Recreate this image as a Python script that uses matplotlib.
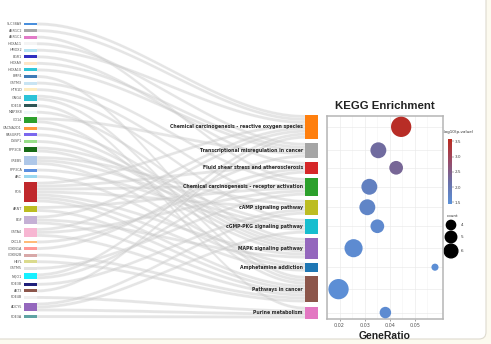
import numpy as np
import matplotlib
matplotlib.use('Agg')
import matplotlib.pyplot as plt
from matplotlib.patches import Rectangle, FancyBboxPatch, Polygon
from matplotlib.colors import LinearSegmentedColormap, Normalize
import matplotlib.cm as cm

# ---- data ----
genes = ['SLC38A9', 'AKR1C2', 'AKR1C1', 'HOXA11', 'HMOX2', 'EGR1', 'HOXA9', 'HOXA10',
         'BMP4', 'GSTM3', 'HTR1D', 'GNG4', 'PDE1B', 'MAP3K8', 'CD14', 'CACNA2D1',
         'RASGRP1', 'DUSP1', 'PPP3CB', 'CREB5', 'PPP3CA', 'ARC', 'FOS', 'ARNT', 'EGF',
         'GSTA4', 'CXCL8', 'CDKN1A', 'CDKN2B', 'HEYL', 'GSTM5', 'NQO1', 'PDE3B', 'AKT3',
         'PDE4B', 'ADCY5', 'PDE3A']
gene_colors = ['#4a8fdc', '#a8a8a8', '#e27bc8', '#f4f4f4', '#b3e2f2', '#2f2fc0', '#fde6c8', '#2ec6d8',
               '#3f7cb8', '#c9e4f3', '#fdecc0', '#2cc3d8', '#2f5555', '#eef7f8', '#2ca02c', '#ff9a3c',
               '#7b68ee', '#98df8a', '#176b17', '#aec7e8', '#5b8fe0', '#9ad8f0', '#c0282c', '#bcbd22', '#c5b0d5',
               '#f7b6d2', '#ffbb78', '#ff9896', '#d8a8a8', '#dbdb8d', '#e2e2e2', '#17f0ff', '#1f1f7a', '#8c564b',
               '#efefef', '#9467bd', '#5fa3a3']

pathways = ['Chemical carcinogenesis - reactive oxygen species',
            'Transcriptional misregulation in cancer',
            'Fluid shear stress and atherosclerosis',
            'Chemical carcinogenesis - receptor activation',
            'cAMP signaling pathway',
            'cGMP-PKG signaling pathway',
            'MAPK signaling pathway',
            'Amphetamine addiction',
            'Pathways in cancer',
            'Purine metabolism']
path_keys = ['ROS', 'TRANS', 'FLUID', 'RECEP', 'CAMP', 'CGMP', 'MAPK', 'AMPH', 'CANCER', 'PURINE']
path_colors = ['#ff7f0e', '#a5a5a5', '#d62728', '#2ca02c', '#bcbd22',
               '#17becf', '#9467bd', '#1f77b4', '#8c564b', '#e377c2']

links = [('SLC38A9', 'ROS'), ('AKR1C2', 'ROS'), ('AKR1C1', 'RECEP'), ('HOXA11', 'TRANS'),
         ('HMOX2', 'ROS'), ('EGR1', 'FLUID'), ('HOXA9', 'TRANS'), ('HOXA10', 'TRANS'),
         ('BMP4', 'CANCER'), ('GSTM3', 'RECEP'), ('HTR1D', 'CAMP'),
         ('GNG4', 'CGMP'), ('GNG4', 'CANCER'), ('PDE1B', 'PURINE'), ('MAP3K8', 'MAPK'),
         ('CD14', 'TRANS'), ('CD14', 'CANCER'), ('CACNA2D1', 'MAPK'), ('RASGRP1', 'MAPK'),
         ('DUSP1', 'MAPK'), ('PPP3CB', 'CGMP'), ('PPP3CB', 'MAPK'),
         ('CREB5', 'CAMP'), ('CREB5', 'CGMP'), ('CREB5', 'AMPH'), ('PPP3CA', 'CGMP'),
         ('ARC', 'AMPH'), ('FOS', 'ROS'), ('FOS', 'FLUID'), ('FOS', 'RECEP'), ('FOS', 'CAMP'),
         ('FOS', 'MAPK'), ('FOS', 'AMPH'), ('FOS', 'CANCER'), ('ARNT', 'RECEP'), ('ARNT', 'CANCER'),
         ('EGF', 'ROS'), ('EGF', 'MAPK'), ('EGF', 'CANCER'), ('GSTA4', 'ROS'), ('GSTA4', 'RECEP'),
         ('GSTA4', 'CANCER'), ('CXCL8', 'FLUID'), ('CDKN1A', 'TRANS'), ('CDKN2B', 'CANCER'),
         ('HEYL', 'CANCER'), ('GSTM5', 'RECEP'), ('NQO1', 'ROS'), ('NQO1', 'FLUID'),
         ('PDE3B', 'CAMP'), ('AKT3', 'ROS'), ('PDE4B', 'PURINE'), ('ADCY5', 'CAMP'),
         ('ADCY5', 'CGMP'), ('ADCY5', 'PURINE'), ('PDE3A', 'PURINE')]

gene_ratio = [0.0446, 0.0355, 0.0426, 0.0319, 0.0311, 0.0351, 0.0256, 0.0581, 0.0196, 0.0383]
neg_log_p = [3.5, 2.25, 2.35, 1.8, 1.7, 1.6, 1.55, 1.5, 1.5, 1.55]
count = [9, 7, 6, 7, 7, 6, 8, 3, 9, 5]
legend_counts = [4, 5, 6]

# ---- figure ----
fig = plt.figure(figsize=(4.91, 3.44), dpi=100)
fig.patch.set_facecolor('#fcfaef')
ax = fig.add_axes([0, 0, 1, 1])
ax.set_xlim(0, 491)
ax.set_ylim(344, 0)
ax.axis('off')
ax.add_patch(FancyBboxPatch((-20, -20), 506, 359, boxstyle='round,pad=0,rounding_size=7',
                            facecolor='white', edgecolor='#dedbd0', lw=0.8, zorder=0))

# sankey layout
unit = 2.96
gx0, gx1 = 24, 37
px0, px1 = 305, 318
gidx = {g: i for i, g in enumerate(genes)}
pidx = {k: i for i, k in enumerate(path_keys)}
lk = [(gidx[g], pidx[p]) for g, p in links]
g_units = np.array([sum(1 for a, b in lk if a == i) for i in range(len(genes))])
p_units = np.array([sum(1 for a, b in lk if b == j) for j in range(len(pathways))])
total = g_units.sum()

g_gap = (318 - 22.5 - total * unit) / (len(genes) - 1)
g_top = 22.5 + np.concatenate([[0], np.cumsum(g_units[:-1] * unit + g_gap)])
p_gap = (318.5 - 115 - total * unit) / (len(pathways) - 1)
p_top = 115 + np.concatenate([[0], np.cumsum(p_units[:-1] * unit + p_gap)])
p_center = p_top + p_units * unit / 2

# flows
g_off = g_top.copy()
p_off = p_top.copy()
src_y = {}
for a, b in sorted(lk, key=lambda t: (t[0], t[1])):
    src_y[(a, b)] = g_off[a]
    g_off[a] += unit
tgt_y = {}
for a, b in sorted(lk, key=lambda t: (t[1], t[0])):
    tgt_y[(a, b)] = p_off[b]
    p_off[b] += unit

xs = np.linspace(gx1, px0, 80)
t = (xs - gx1) / (px0 - gx1)
s = 3 * t ** 2 - 2 * t ** 3
for key in lk:
    y0, y1 = src_y[key], tgt_y[key]
    top = y0 + (y1 - y0) * s
    bot = top + unit
    verts = np.concatenate([np.column_stack([xs, top]), np.column_stack([xs[::-1], bot[::-1]])])
    ax.add_patch(Polygon(verts, closed=True, facecolor='#cccccc', alpha=0.5,
                         edgecolor='white', lw=0.2, zorder=1))

# gene nodes
for i, g in enumerate(genes):
    h = g_units[i] * unit
    ax.add_patch(Rectangle((gx0, g_top[i]), gx1 - gx0, h, facecolor=gene_colors[i],
                           edgecolor='none', zorder=2))
    ax.text(gx0 - 2, g_top[i] + h / 2, g, ha='right', va='center', fontsize=2.4, color='#555555')

# pathway nodes
for j, p in enumerate(pathways):
    h = p_units[j] * unit
    ax.add_patch(Rectangle((px0, p_top[j]), px1 - px0, h, facecolor=path_colors[j],
                           edgecolor='none', zorder=2))
    ax.text(px0 - 2, p_center[j], p, ha='right', va='center', fontsize=3.3,
            fontweight='bold', color='#2a2a2a', zorder=3)

# dot plot
cmap = LinearSegmentedColormap.from_list('kegg', ['#5b90d8', '#6a70a8', '#9a4a66', '#bb2a1e'])
norm = Normalize(1.45, 3.58)


def dot_size(c):
    d_px = 2.2 * np.asarray(c) + 0.5
    return (d_px * 0.72) ** 2


ax2 = fig.add_axes([327 / 491, (344 - 319) / 344, 116 / 491, 203 / 344])
ax2.set_xlim(0.0152, 0.0613)
ax2.set_ylim(319, 116)
ax2.scatter(gene_ratio, p_center, s=dot_size(count), c=neg_log_p, cmap=cmap, norm=norm,
            edgecolors='none', zorder=3)
ax2.set_xticks([0.02, 0.03, 0.04, 0.05])
ax2.set_xticks([0.015, 0.025, 0.035, 0.045, 0.055], minor=True)
ax2.set_xticklabels(['0.02', '0.03', '0.04', '0.05'])
ax2.set_yticks(p_center)
ax2.set_yticklabels([])
ax2.grid(True, which='major', color='#ebebeb', lw=0.5)
ax2.grid(True, which='minor', axis='x', color='#f3f3f3', lw=0.4)
ax2.set_axisbelow(True)
ax2.tick_params(axis='x', which='major', labelsize=3.5, length=1.5, width=0.4,
                colors='#555555', pad=1.5)
ax2.tick_params(axis='x', which='minor', length=0)
ax2.tick_params(axis='y', length=0)
for sp in ax2.spines.values():
    sp.set_color('#b5b5b5')
    sp.set_linewidth(1.1)

ax.text(385, 106, 'KEGG Enrichment', ha='center', va='center', fontsize=8.2,
        fontweight='bold', family='Liberation Sans', color='#222222')
ax.text(385, 336, 'GeneRatio', ha='center', va='center', fontsize=7.5,
        fontweight='bold', family='Liberation Sans', color='#222222')

# colorbar
cax = fig.add_axes([448 / 491, (344 - 204) / 344, 4 / 491, 65 / 344])
sm = cm.ScalarMappable(norm=norm, cmap=cmap)
cb = fig.colorbar(sm, cax=cax)
cb.outline.set_visible(False)
cb.set_ticks([1.5, 2.0, 2.5, 3.0, 3.5])
cax.tick_params(labelsize=3, length=1.2, width=0.3, colors='#444444', pad=1)
ax.text(443, 132, '-log10(p-value)', ha='left', va='center', fontsize=3, color='#333333')

# size legend
ax.text(447, 216, 'count', ha='left', va='center', fontsize=3, color='#333333')
leg_y = [225, 237, 251]
ax.scatter([451] * 3, leg_y, s=dot_size(legend_counts), color='black', zorder=3)
for c, y in zip(legend_counts, leg_y):
    ax.text(461, y, str(c), ha='left', va='center', fontsize=3, color='#333333')

fig.savefig('out.png', dpi=100, facecolor=fig.get_facecolor())
